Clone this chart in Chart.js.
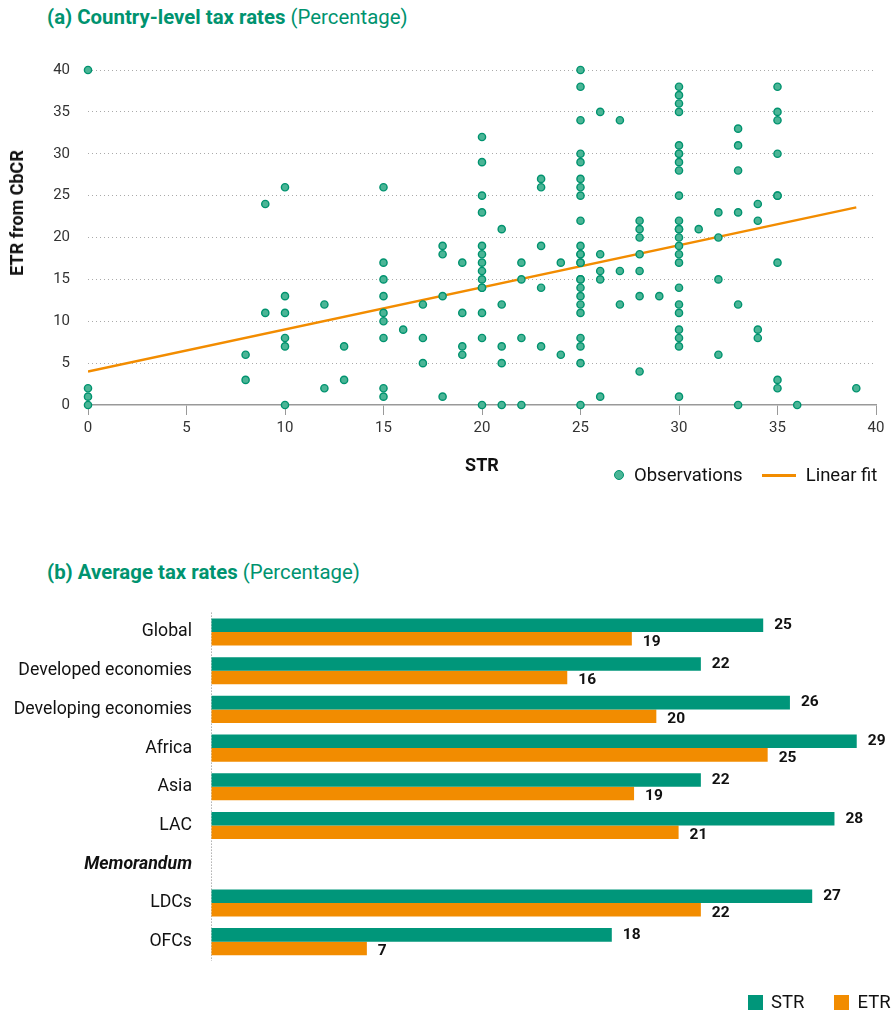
<!DOCTYPE html>
<html>
<head>
<meta charset="utf-8">
<script src="https://cdn.jsdelivr.net/npm/chart.js@4"></script>
<style>
  body { margin: 0; background: #fff; font-family: Roboto, sans-serif; }
  #page { position: relative; width: 894px; height: 1013px; overflow: hidden; }
  .title { position: absolute; left: 47px; font-size: 20.4px; line-height: 24px; color: #00936F; white-space: nowrap; }
  .legend { position: absolute; font-size: 18.5px; line-height: 22px; color: #111; white-space: nowrap; display: flex; align-items: center; }
  .axt { position: absolute; font-size: 18px; line-height: 22px; font-weight: bold; color: #111; white-space: nowrap; }
  .dot { display: inline-block; width: 8px; height: 8px; border-radius: 50%; background: #4BB596; border: 1.5px solid #00936F; margin-right: 10px; }
  .line { display: inline-block; width: 34px; height: 3px; background: #F28C00; margin: 0 10px 0 19px; }
  .sq { display: inline-block; width: 15px; height: 15px; margin-right: 8px; }
  #c1 { position: absolute; left: 0; top: 0; }
  #c2 { position: absolute; left: 0; top: 583px; }
</style>
</head>
<body>
<div id="page">
  <div class="title" style="top:5px"><b>(a) Country-level tax rates</b> (Percentage)</div>
  <canvas id="c1" width="894" height="500"></canvas>
  <div class="axt" style="left:482px; top:454px; transform:translateX(-50%)">STR</div>
  <div class="axt" style="left:17px; top:213px; transform:translate(-50%,-50%) rotate(-90deg)">ETR from CbCR</div>
  <div class="legend" style="left:614px; top:464px">
    <span class="dot"></span>Observations<span class="line"></span>Linear fit
  </div>

  <div class="title" style="top:560px"><b>(b) Average tax rates</b> (Percentage)</div>
  <canvas id="c2" width="894" height="430"></canvas>
  <div class="legend" style="left:748px; top:991px">
    <span class="sq" style="background:#00967A"></span>STR<span class="sq" style="background:#F28C00; margin-left:30px"></span>ETR
  </div>
</div>

<script>
// panel (a) : STR (x) et ETR (y) par pays
var strValues = [
  0, 0, 0, 0,
  8, 8, 9, 9,
  10, 10, 10, 10, 10, 10,
  12, 12, 13, 13,
  15, 15, 15, 15, 15, 15, 15, 15, 15,
  16, 17, 17, 17, 18, 18, 18, 18,
  19, 19, 19, 19,
  20, 20, 20, 20, 20, 20, 20, 20, 20, 20, 20, 20, 20, 20,
  21, 21, 21, 21, 21,
  22, 22, 22, 22,
  23, 23, 23, 23, 23,
  24, 24,
  25, 25, 25, 25, 25, 25, 25, 25, 25, 25, 25, 25, 25, 25, 25, 25, 25, 25, 25, 25, 25, 25, 25, 25,
  26, 26, 26, 26, 26,
  27, 27, 27,
  28, 28, 28, 28, 28, 28, 28,
  29,
  30, 30, 30, 30, 30, 30, 30, 30, 30, 30, 30, 30, 30, 30, 30, 30, 30, 30, 30, 30, 30, 30, 30, 30,
  31,
  32, 32, 32, 32,
  33, 33, 33, 33, 33, 33,
  34, 34, 34, 34,
  35, 35, 35, 35, 35, 35, 35, 35, 35,
  36, 39
];
var etrValues = [
  40, 2, 1, 0,
  6, 3, 24, 11,
  26, 13, 11, 8, 7, 0,
  12, 2, 7, 3,
  26, 17, 15, 13, 11, 10, 8, 2, 1,
  9, 12, 8, 5, 19, 18, 13, 1,
  17, 11, 7, 6,
  32, 29, 25, 23, 19, 18, 17, 16, 15, 14, 14, 11, 8, 0,
  21, 12, 7, 5, 0,
  17, 15, 8, 0,
  27, 26, 19, 14, 7,
  17, 6,
  40, 38, 34, 30, 29, 27, 26, 25, 22, 19, 18, 18, 17, 17, 15, 15, 14, 13, 12, 11, 8, 7, 5, 0,
  35, 18, 16, 15, 1,
  34, 16, 12,
  22, 21, 20, 18, 16, 13, 4,
  13,
  38, 37, 36, 35, 31, 30, 30, 29, 28, 25, 22, 21, 21, 20, 19, 18, 17, 14, 12, 11, 9, 8, 7, 1,
  21,
  23, 20, 15, 6,
  33, 31, 28, 23, 12, 0,
  24, 22, 9, 8,
  38, 35, 34, 30, 25, 25, 17, 3, 2,
  0, 2
];
// droite de regression (debut et fin)
var fitX = [0, 39];
var fitY = [4, 23.6];

// panel (b)
var groups = ['Global', 'Developed economies', 'Developing economies', 'Africa', 'Asia', 'LAC', 'Memorandum', 'LDCs', 'OFCs'];
var strAvg = [24.8, 22, 26, 29, 22, 28, null, 27, 18];
var etrAvg = [18.9, 16, 20, 25, 19, 21, null, 22, 7];

var GREEN = '#00967A';
var ORANGE = '#F28C00';
var FONT = 'Roboto, sans-serif';

var points = strValues.map(function (x, i) { return { x: x, y: etrValues[i] }; });
var fitLine = fitX.map(function (x, i) { return { x: x, y: fitY[i] }; });

new Chart(document.getElementById('c1'), {
  type: 'scatter',
  data: {
    datasets: [{
      label: 'Observations',
      data: points,
      backgroundColor: '#4BB596',
      borderColor: '#00936F',
      borderWidth: 1.4,
      pointRadius: 3.6,
      clip: false
    }, {
      type: 'line',
      label: 'Linear fit',
      data: fitLine,
      borderColor: ORANGE,
      borderWidth: 2.5,
      pointRadius: 0,
      fill: false
    }]
  },
  options: {
    responsive: false,
    animation: false,
    layout: { padding: { left: 0, right: 18, top: 70, bottom: 0 } },
    plugins: { legend: { display: false }, tooltip: { enabled: false } },
    scales: {
      x: {
        type: 'linear',
        min: 0, max: 40,
        afterFit: function (s) { s.height = 95; },
        ticks: { stepSize: 5, padding: 4, color: '#333', font: { family: FONT, size: 15 } },
        grid: { drawOnChartArea: false, drawTicks: true, tickLength: 10, color: '#999' },
        border: { display: true, color: '#999', width: 1.5 }
      },
      y: {
        min: 0, max: 40,
        afterFit: function (s) { s.width = 88; },
        ticks: { stepSize: 5, padding: 18, color: '#333', font: { family: FONT, size: 15 } },
        grid: {
          drawTicks: false,
          color: function (ctx) { return ctx.tick && ctx.tick.value === 0 ? 'rgba(0,0,0,0)' : '#aaa'; }
        },
        border: { display: false, dash: [1, 3] }
      }
    }
  }
});

// etiquettes des valeurs au bout des barres
var valueLabels = {
  id: 'valueLabels',
  afterDatasetsDraw: function (chart) {
    var ctx = chart.ctx;
    ctx.save();
    ctx.font = 'bold 15.5px ' + FONT;
    ctx.fillStyle = '#111';
    ctx.textAlign = 'left';
    ctx.textBaseline = 'middle';
    chart.data.datasets.forEach(function (ds, di) {
      chart.getDatasetMeta(di).data.forEach(function (bar, i) {
        if (ds.data[i] == null) return;
        ctx.fillText(Math.round(ds.data[i]), bar.x + 11, bar.y + (di === 1 ? 3 : 0));
      });
    });
    ctx.restore();
  }
};

new Chart(document.getElementById('c2'), {
  type: 'bar',
  data: {
    labels: groups,
    datasets: [{
      label: 'STR',
      data: strAvg,
      backgroundColor: GREEN,
      categoryPercentage: 0.7,
      barPercentage: 1
    }, {
      label: 'ETR',
      data: etrAvg,
      backgroundColor: ORANGE,
      categoryPercentage: 0.7,
      barPercentage: 1
    }]
  },
  options: {
    indexAxis: 'y',
    responsive: false,
    animation: false,
    layout: { padding: { left: 0, right: 15, top: 29, bottom: 52 } },
    plugins: { legend: { display: false }, tooltip: { enabled: false } },
    scales: {
      x: {
        min: 0, max: 30,
        afterFit: function (s) { s.height = 0; },
        ticks: { display: false },
        grid: {
          drawTicks: false,
          color: function (ctx) { return ctx.tick && ctx.tick.value === 0 ? '#888' : 'rgba(0,0,0,0)'; }
        },
        border: { display: false, dash: [1, 2] }
      },
      y: {
        afterFit: function (s) { s.width = 211; },
        grid: { display: false, drawTicks: false },
        border: { display: false },
        ticks: {
          padding: 19,
          color: '#111',
          font: function (ctx) {
            if (ctx.index === 6) return { family: FONT, size: 17.7, style: 'italic', weight: 'bold' };
            return { family: FONT, size: 17.7 };
          }
        }
      }
    }
  },
  plugins: [valueLabels]
});
</script>
</body>
</html>
